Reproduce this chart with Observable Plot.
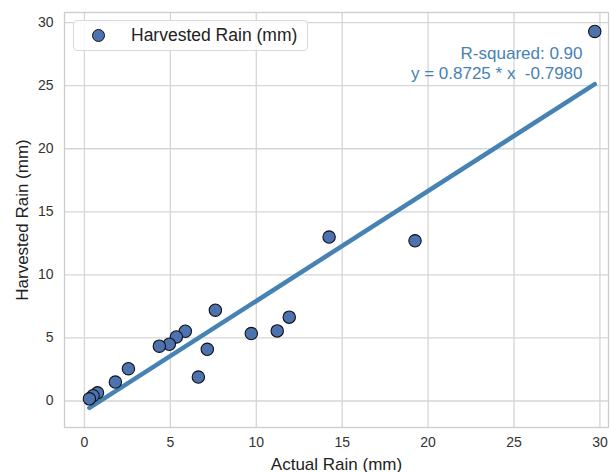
<!DOCTYPE html>
<html>
<head>
<meta charset="utf-8">
<script src="https://cdn.jsdelivr.net/npm/d3@7"></script>
<script src="https://cdn.jsdelivr.net/npm/@observablehq/plot@0.6"></script>
<style>
  html, body { margin: 0; padding: 0; background: #fff; }
  #wrap { position: relative; width: 610px; height: 472px; font-family: "Liberation Sans", Arial, sans-serif; }
  #legend { position: absolute; left: 73px; top: 20px; width: 235px; height: 31px; box-sizing: border-box;
            border: 1px solid #d9d9d9; border-radius: 4px; background: rgba(255,255,255,0.85);
            display: flex; align-items: center; font-size: 17.5px; color: #222; }
  #legend .dot { width: 11px; height: 11px; border-radius: 50%; background: #4c72b0; border: 1px solid #111;
                 margin-left: 18px; margin-right: 26px; flex: none; }
</style>
</head>
<body>
<div id="wrap"><div id="legend"><span class="dot"></span><span id="legtext"></span></div></div>
<script>
const actualRain = [29.7, 19.24, 14.24, 11.92, 11.22, 9.71, 7.62, 7.15, 6.63, 5.87, 5.35, 4.94, 4.36, 2.56, 1.8, 0.76, 0.5, 0.29];
const harvestedRain = [29.3, 12.7, 13.0, 6.65, 5.56, 5.35, 7.2, 4.1, 1.9, 5.53, 5.08, 4.5, 4.35, 2.56, 1.5, 0.65, 0.42, 0.17];
const slope = 0.8725;
const intercept = -0.7980;
const rSquared = 0.90;
const xTicks = [0, 5, 10, 15, 20, 25, 30];
const yTicks = [0, 5, 10, 15, 20, 25, 30];
const seriesName = "Harvested Rain (mm)";
const xLabel = "Actual Rain (mm)";
const yLabel = "Harvested Rain (mm)";

const points = actualRain.map((x, i) => ({x, y: harvestedRain[i]}));
const xMin = d3.min(actualRain), xMax = d3.max(actualRain);
const fit = [xMin, xMax].map(x => ({x, y: slope * x + intercept}));
const annot = [`R-squared: ${rSquared.toFixed(2)}`, `y = ${slope.toFixed(4)} * x  ${intercept.toFixed(4)}`];

document.getElementById("legtext").textContent = seriesName;

const chart = Plot.plot({
  width: 610,
  height: 472,
  marginLeft: 64,
  marginRight: 2,
  marginTop: 12,
  marginBottom: 45,
  style: {fontFamily: '"Liberation Sans", Arial, sans-serif', fontSize: "14px", color: "#333", background: "#fff"},
  x: {domain: [-1.16, 30.5], ticks: xTicks, tickSize: 0, tickPadding: 10, label: xLabel, labelArrow: "none", labelAnchor: "center", labelOffset: 42},
  y: {domain: [-2.1, 30.8], ticks: yTicks, tickSize: 0, tickPadding: 11, label: yLabel, labelArrow: "none", labelAnchor: "center", labelOffset: 49},
  marks: [
    Plot.gridX(xTicks, {stroke: "#d6d6d6", strokeOpacity: 1, strokeWidth: 1.3}),
    Plot.gridY(yTicks, {stroke: "#d6d6d6", strokeOpacity: 1, strokeWidth: 1.3}),
    Plot.frame({stroke: "#cccccc", strokeWidth: 1.3}),
    Plot.line(fit, {x: "x", y: "y", stroke: "#4682b4", strokeWidth: 4.5}),
    Plot.dot(points, {x: "x", y: "y", r: 6.2, fill: "#4c72b0", stroke: "#111", strokeWidth: 1.1}),
    Plot.text([annot[0]], {frameAnchor: "top-right", text: d => d, dx: -26, dy: 34, fill: "#4682b4", fontSize: 17, textAnchor: "end"}),
    Plot.text([annot[1]], {frameAnchor: "top-right", text: d => d, dx: -26, dy: 54, fill: "#4682b4", fontSize: 17, textAnchor: "end"})
  ]
});
document.getElementById("wrap").insertBefore(chart, document.getElementById("legend"));
chart.style.position = "absolute";
chart.style.left = "0";
chart.style.top = "0";
// style axis labels, strip any arrows
d3.select(chart).selectAll("[aria-label='x-axis label'] text, [aria-label='y-axis label'] text")
  .style("font-size", "17px").style("fill", "#222")
  .each(function () { this.textContent = this.textContent.replace(/\s*[↑→←↓]\s*/g, ""); });
</script>
</body>
</html>
